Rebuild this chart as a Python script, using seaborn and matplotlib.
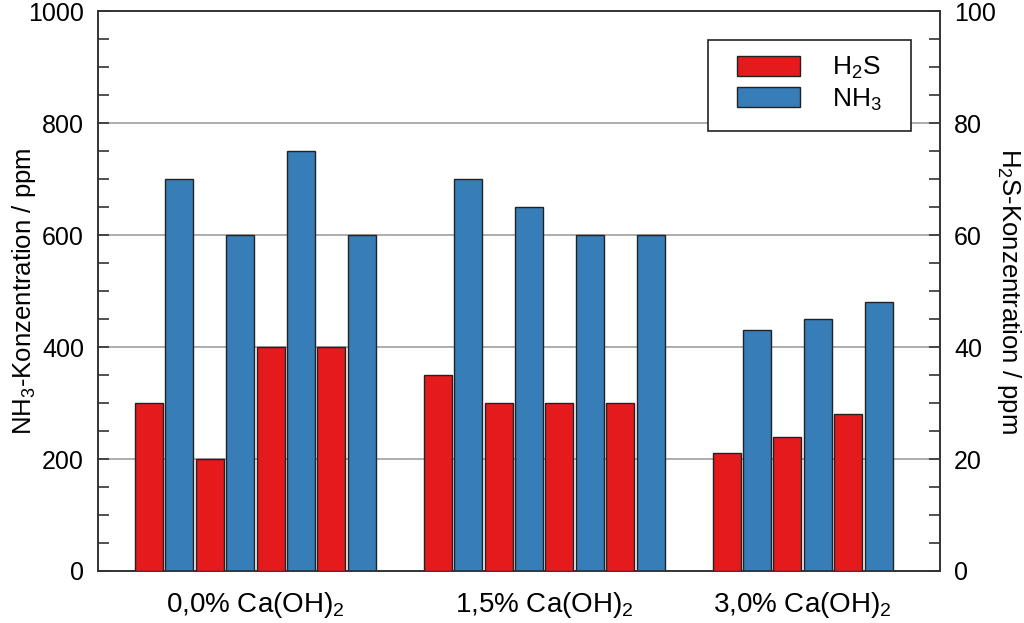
import pandas as pd
import matplotlib
matplotlib.use('Agg')
import matplotlib.pyplot as plt
from matplotlib.patches import Patch, Rectangle
from matplotlib.ticker import MultipleLocator
import seaborn as sns

# Data
groups = ['0,0% Ca(OH)$_2$', '1,5% Ca(OH)$_2$', '3,0% Ca(OH)$_2$']
h2s_ppm = [[30, 20, 40, 40], [35, 30, 30, 30], [21, 24, 28]]
nh3_ppm = [[700, 600, 750, 600], [700, 650, 600, 600], [430, 450, 480]]

red = '#e41a1c'
blue = '#377eb8'

# Build long tables: bars alternate H2S / NH3 inside each group
group_step = 9.5
rows_h2s, rows_nh3 = [], []
for g, (hs, nh) in enumerate(zip(h2s_ppm, nh3_ppm)):
    for i, (h, n) in enumerate(zip(hs, nh)):
        rows_h2s.append({'pos': g * group_step + 2 * i, 'ppm': h})
        rows_nh3.append({'pos': g * group_step + 2 * i + 1, 'ppm': n})
df_h2s = pd.DataFrame(rows_h2s)
df_nh3 = pd.DataFrame(rows_nh3)

sns.set_style('white')
plt.rcParams['font.family'] = ['Liberation Sans', 'DejaVu Sans']
plt.rcParams['mathtext.default'] = 'regular'
plt.rcParams['text.color'] = 'black'
plt.rcParams['axes.labelcolor'] = 'black'

fig = plt.figure(figsize=(10.24, 6.23), dpi=100)
ax = fig.add_axes([0.0957, 0.0835, 0.8223, 0.8985])
ax2 = ax.twinx()

sns.barplot(data=df_nh3, x='pos', y='ppm', native_scale=True, color=blue,
            saturation=1, width=0.46, edgecolor='#222222', linewidth=1,
            errorbar=None, ax=ax, zorder=3)
sns.barplot(data=df_h2s, x='pos', y='ppm', native_scale=True, color=red,
            saturation=1, width=0.46, edgecolor='#222222', linewidth=1,
            errorbar=None, ax=ax2, zorder=3)

# x axis: group labels and separator ticks
ax.set_xlim(-1.68, 26.02)
centers = [g * group_step + (2 * len(h) - 1) / 2 for g, h in enumerate(h2s_ppm)]
ax.set_xticks(centers)
ax.set_xticklabels(groups, fontsize=20)
seps = [(g + 1) * group_step - 1.25 for g in range(len(groups) - 1)]
ax.set_xticks(seps, minor=True)
ax.tick_params(axis='x', which='major', length=0, pad=14, labelcolor='black')
ax.tick_params(axis='x', which='minor', direction='in', length=7, width=1.2, color='#333333')
ax.set_xlabel('')

# left axis: NH3
ax.set_ylim(0, 1000)
ax.yaxis.set_major_locator(MultipleLocator(200))
ax.yaxis.set_minor_locator(MultipleLocator(50))
ax.tick_params(axis='y', which='both', direction='in', labelsize=18, length=8,
               color='#333333', labelcolor='black', width=1.2, pad=10)
ax.set_ylabel('NH$_3$-Konzentration / ppm', fontsize=18.5, va='bottom')
ax.yaxis.set_label_coords(-0.071, 0.5)
ax.yaxis.grid(True, color='#a0a0a0', linewidth=1.2)
ax.set_axisbelow(True)

# right axis: H2S
ax2.set_ylim(0, 100)
ax2.yaxis.set_major_locator(MultipleLocator(20))
ax2.yaxis.set_minor_locator(MultipleLocator(5))
ax2.tick_params(axis='y', which='both', direction='in', labelsize=18, length=8,
                color='#333333', labelcolor='black', width=1.2, pad=10)
ax2.set_ylabel('H$_2$S-Konzentration / ppm', fontsize=18.5, rotation=-90, va='bottom')
ax2.yaxis.set_label_coords(1.065, 0.5)
ax2.set_xlim(ax.get_xlim())

for a in (ax, ax2):
    for s in a.spines.values():
        s.set_color('#333333')
        s.set_linewidth(1.2)

# legend without its own frame; a wider box is drawn around it afterwards
handles = [Patch(facecolor=red, edgecolor='#222222', label='H$_2$S'),
           Patch(facecolor=blue, edgecolor='#222222', label='NH$_3$')]
leg = ax2.legend(handles=handles, loc='upper right', bbox_to_anchor=(0.931, 0.922),
                 fontsize=19, frameon=False, handlelength=2.4, handleheight=0.8,
                 handletextpad=1.2, borderpad=0, borderaxespad=0,
                 labelspacing=0.2)
fig.canvas.draw()
bb = leg.get_window_extent().transformed(fig.transFigure.inverted())
pad_x, pad_top, pad_bot = 29 / 1024, 15 / 623, 18 / 623
frame = Rectangle((bb.x0 - pad_x, bb.y0 - pad_bot), bb.width + 2 * pad_x,
                  bb.height + pad_top + pad_bot, transform=fig.transFigure,
                  facecolor='white', edgecolor='#222222', linewidth=1.2, zorder=4)
fig.add_artist(frame)
leg.set_zorder(5)
leg.remove()
fig.add_artist(leg)

fig.savefig('out.png', dpi=100)
